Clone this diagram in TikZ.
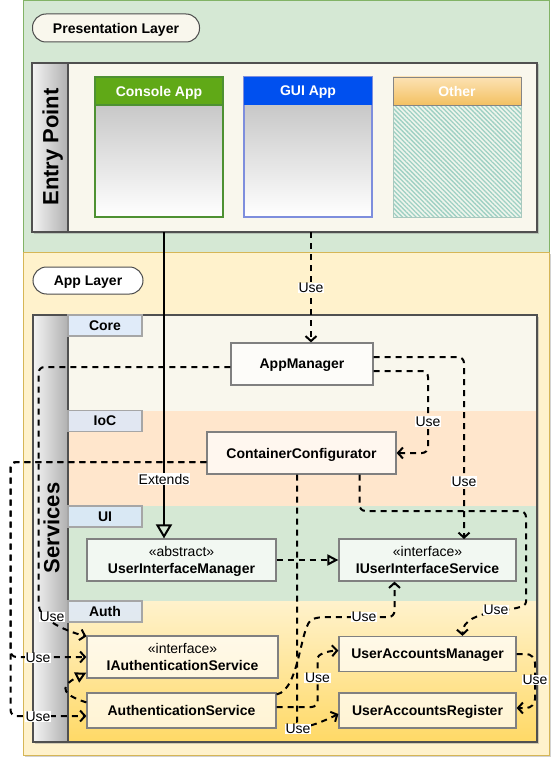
\documentclass[tikz,border=0pt]{standalone}
\usepackage{fontspec}
\setmainfont{Liberation Sans}
\usetikzlibrary{arrows.meta,patterns.meta,shadows,calc}
\definecolor{grnfill}{HTML}{D5E8D4}
\definecolor{grnline}{HTML}{82B366}
\definecolor{ylwfill}{HTML}{FFF2CC}
\definecolor{ylwline}{HTML}{D6B656}
\definecolor{ylwdark}{HTML}{FFD966}
\definecolor{creamfill}{HTML}{F9F7ED}
\definecolor{orgfill}{HTML}{FFE6CC}
\definecolor{boxline}{HTML}{505050}
\definecolor{pillline}{HTML}{4D4D4D}
\definecolor{nodeline}{HTML}{808080}
\definecolor{lblfill}{HTML}{DAE8FC}
\definecolor{lblline}{HTML}{A6A6A6}
\definecolor{stripL}{HTML}{F4F4F4}
\definecolor{stripR}{HTML}{B0B0B0}
\definecolor{consolegreen}{HTML}{60A917}
\definecolor{consoleline}{HTML}{4E9132}
\definecolor{guiblue}{HTML}{0050EF}
\definecolor{guiline}{HTML}{7E8EDD}
\definecolor{othertop}{HTML}{FCE2B4}
\definecolor{otherbot}{HTML}{F3C162}
\definecolor{hatchcol}{HTML}{9ED0C3}
\definecolor{hatchbg}{HTML}{EEF5EC}
\definecolor{otherline}{HTML}{A8C8BE}
\definecolor{bodytop}{HTML}{C8C8C8}
\tikzset{
  clsnode/.style={draw=nodeline, line width=1.2pt, fill=white, fill opacity=0.7, text opacity=1,
    font=\fontsize{14}{17}\selectfont\bfseries, inner sep=0pt, align=center, text depth=0pt},
  lanelbl/.style={draw=lblline, line width=1.5pt, fill=lblfill, fill opacity=0.8, text opacity=1,
    font=\fontsize{14}{17}\selectfont\bfseries, inner sep=0pt, minimum width=74pt, minimum height=21pt, text depth=0pt},
  pill/.style={draw=pillline, line width=1pt, rounded corners=13.5pt,
    font=\fontsize{14}{17}\selectfont\bfseries, inner sep=0pt, text depth=0pt},
  usearrow/.style={draw, line width=2pt, dash pattern=on 6pt off 5pt,
    -{Straight Barb[length=5pt,width=11pt]}, rounded corners=6pt},
  realarrow/.style={draw, line width=2pt, dash pattern=on 6pt off 5pt,
    -{Triangle[open,length=11pt,width=11pt]}},
  extarrow/.style={draw, line width=2pt, -{Triangle[open,length=14pt,width=16pt]}},
  edgelbl/.style={fill=white, inner sep=0.6pt, font=\fontsize{14}{14}\selectfont},
  hdrtxt/.style={text=white, font=\fontsize{14}{17}\selectfont\bfseries, text depth=0pt},
  striptxt/.style={rotate=90, font=\fontsize{22}{26}\selectfont\bfseries, text depth=0pt},
  boxshadow/.style={drop shadow={opacity=0.35, shadow xshift=1.5pt, shadow yshift=-1.5pt}}
}
\begin{document}
\begin{tikzpicture}[x=1pt,y=-1pt]
\useasboundingbox (0,0) rectangle (558,765);
\fill[white] (0,0) rectangle (558,765);

% ---------- Presentation layer ----------
\draw[fill=grnfill, draw=grnline, line width=1pt] (23,0.5) rectangle (549,252);
\node[pill, fill=creamfill, minimum width=167pt, minimum height=28pt] (plabel) at (116,28) {Presentation Layer};

% Entry point container
\draw[fill=creamfill, draw=boxline, line width=1.2pt, boxshadow] (32,63) rectangle (537,232);
\shade[left color=stripL, right color=stripR] (32,63) rectangle (68,232);
\draw[draw=boxline, line width=1.2pt] (32,63) rectangle (537,232);
\draw[draw=boxline, line width=1.2pt] (68,63) -- (68,232);
\node[striptxt] (entrylbl) at (50.5,147) {Entry Point};

% Console App
\shade[top color=bodytop, bottom color=white] (95,105) rectangle (223,217);
\fill[consolegreen] (95,77) rectangle (223,105);
\draw[consoleline, line width=1.2pt] (95,77) rectangle (223,217);
\draw[consoleline, line width=1.2pt] (95,105) -- (223,105);
\node[hdrtxt] (consolettl) at (159,91) {Console App};

% GUI App
\shade[top color=bodytop, bottom color=white] (244,105) rectangle (372,217);
\draw[guiline, line width=1.2pt] (244,77) rectangle (372,217);
\fill[guiblue] (244,77) rectangle (372,105);
\node[hdrtxt] (guittl) at (308,91) {GUI App};

% Other
\fill[hatchbg] (393,105) rectangle (521,217);
\fill[pattern={Lines[angle=-45,distance=3.2pt,line width=1.3pt]}, pattern color=hatchcol] (393,105) rectangle (521,217);
\draw[otherline, line width=1pt] (393,105) rectangle (521,217);
\shade[top color=othertop, bottom color=otherbot] (393,77) rectangle (521,105);
\draw[draw=lblline!80!black, line width=0.8pt] (393,77) rectangle (521,105);
\node[hdrtxt] (otherttl) at (457,91) {Other};

% ---------- App layer ----------
\draw[fill=ylwfill, draw=ylwline, line width=1pt, boxshadow] (23,252) rectangle (549,755);
\node[pill, fill=white, minimum width=110pt, minimum height=27pt] (alabel) at (88,280.5) {App Layer};

% Services container
\draw[fill=creamfill, draw=boxline, line width=1.2pt, boxshadow] (33,315) rectangle (537,742);
\fill[creamfill] (68,315) rectangle (537,411);
\fill[orgfill] (68,411) rectangle (537,506);
\fill[grnfill] (68,506) rectangle (537,601);
\shade[top color=ylwfill, bottom color=ylwdark] (68,601) rectangle (537,742);
\shade[left color=stripL, right color=stripR] (33,315) rectangle (68,742);
\draw[draw=boxline, line width=1.2pt] (33,315) rectangle (537,742);
\draw[draw=boxline, line width=1.2pt] (68,315) -- (68,742);
\node[striptxt] (serviceslbl) at (51.5,528) {Services};

\node[lanelbl] (corelbl) at (105,325.5) {Core};
\node[lanelbl] (ioclbl) at (105,421) {IoC};
\node[lanelbl] (uilbl) at (105,516.5) {UI};
\node[lanelbl] (authlbl) at (105,611.5) {Auth};

% ---------- class nodes ----------
\node[clsnode, minimum width=142pt, minimum height=42pt] (am) at (302,364) {AppManager};
\node[clsnode, minimum width=189pt, minimum height=42pt] (cc) at (301.5,453) {ContainerConfigurator};
\node[clsnode, minimum width=189pt, minimum height=42pt] (uim) at (181.5,560) {{\mdseries «abstract»}\\UserInterfaceManager};
\node[clsnode, minimum width=177pt, minimum height=42pt] (iuis) at (427.5,560) {{\mdseries «interface»}\\IUserInterfaceService};
\node[clsnode, minimum width=191pt, minimum height=42pt] (iauth) at (182.5,657) {{\mdseries «interface»}\\IAuthenticationService};
\node[clsnode, minimum width=189pt, minimum height=35pt] (auths) at (181.5,710.5) {AuthenticationService};
\node[clsnode, minimum width=177pt, minimum height=35pt] (uam) at (427.5,654) {UserAccountsManager};
\node[clsnode, minimum width=177pt, minimum height=35pt] (uar) at (427.5,710.5) {UserAccountsRegister};

% free ends of the two connectors leaving the entry point apps
\coordinate (consoleout) at (164,232);
\coordinate (guiout) at (311,232);

% ---------- connectors ----------
% Extends
\draw[extarrow] (consoleout) -- (consoleout |- uim.north);
\node[edgelbl] (lext) at (164,479) {Extends};

% GUI -> AppManager
\draw[usearrow] (guiout) -- (guiout |- am.north);
\node[edgelbl] (l1) at (311,288) {Use};

% AppManager -> ContainerConfigurator
\draw[usearrow] ([yshift=-7pt]am.east) -- (428,371) |- (cc.east);
\node[edgelbl] (l2) at (428,421.5) {Use};

% AppManager -> IUserInterfaceService
\draw[usearrow] ([yshift=7pt]am.east) -- (464,357) -- (464,539);
\node[edgelbl] (l3) at (464,481.5) {Use};

% AppManager -> IAuthenticationService
\draw[usearrow] ([yshift=-3pt]am.west) -- (38.5,367) -- (38.5,598)
   .. controls (38.5,618) and (62,630) .. ([yshift=-1pt]iauth.north west);
\node[edgelbl] (l4) at (52,617) {Use};

% ContainerConfigurator -> IAuthenticationService / AuthenticationService
\draw[usearrow] ([yshift=-9pt]cc.west) -- (10.5,462) |- (iauth.west);
\draw[usearrow] ([yshift=-9pt]cc.west) -- (10.5,462) |- ([yshift=-5.5pt]auths.west);
\node[edgelbl] (l5) at (38,658) {Use};
\node[edgelbl] (l6) at (38,716.5) {Use};

% ContainerConfigurator -> UserAccountsManager
\draw[usearrow] ([xshift=58pt]cc.south) -- (359.5,511) -- (526,511) -- (526,596)
   .. controls (526,614) and (462,606) .. ([xshift=35pt]uam.north);
\node[edgelbl] (l7) at (496,610) {Use};

% ContainerConfigurator -> UserAccountsRegister
\draw[usearrow] ([xshift=-4.5pt]cc.south) -- (297,716)
   .. controls (297,732) and (318,724) .. ([yshift=-3.5pt]uar.west);
\node[edgelbl] (l8) at (298,729) {Use};

% UserInterfaceManager realizes IUserInterfaceService
\draw[realarrow] (uim.east) -- (iuis.west);

% AuthenticationService -> IUserInterfaceService
\draw[usearrow] ([yshift=-2pt]auths.north east) .. controls (300,690) and (300,624) .. (318,617)
   -- (394.5,617) -- ([xshift=-33pt]iuis.south);
\node[edgelbl] (l9) at (364,617) {Use};

% AuthenticationService -> UserAccountsManager
\draw[usearrow] ([yshift=3.5pt]auths.east) -- (317.5,707) -- (317.5,664)
   .. controls (317.5,655) and (326,651) .. ([yshift=3.5pt]uam.west);
\node[edgelbl] (l10) at (317.5,678) {Use};

% UserAccountsManager -> UserAccountsRegister
\draw[usearrow, rounded corners=9pt] (uam.east) -- (535,654) -- (535,708) -- ([yshift=2.5pt]uar.east);
\node[edgelbl] (l11) at (535,680) {Use};

% AuthenticationService realizes IAuthenticationService
\draw[realarrow] ([yshift=-10pt]auths.north west) .. controls (66,696) and (56,688) .. ([yshift=6pt]iauth.south west);

\end{tikzpicture}
\end{document}
